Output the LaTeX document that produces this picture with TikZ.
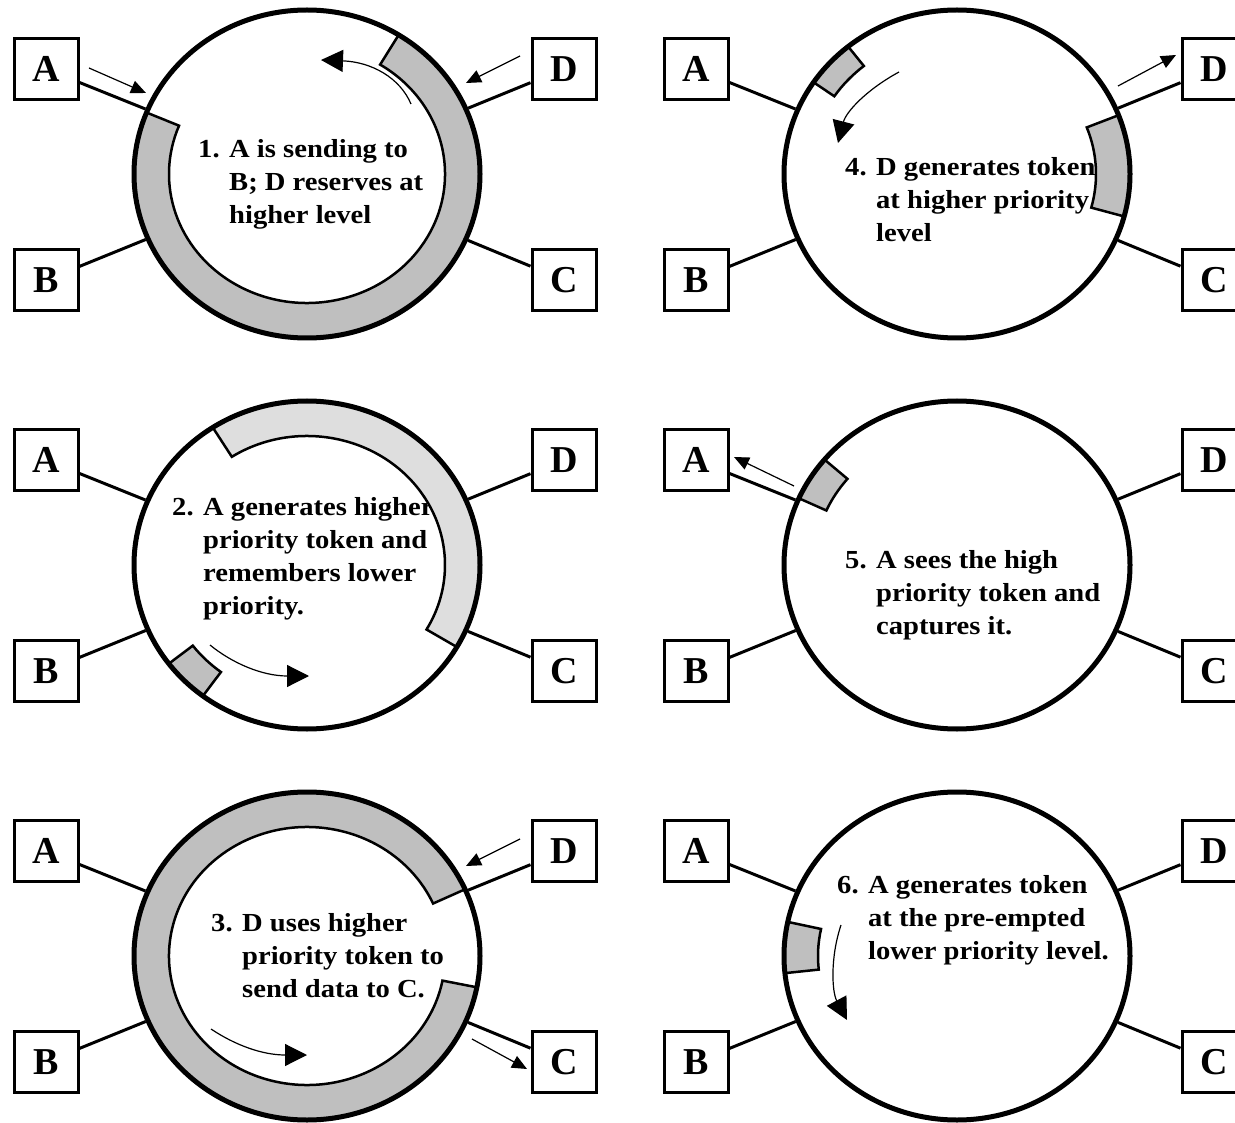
\documentclass[tikz,border=0pt]{standalone}
\usepackage{fontspec}
\setmainfont{Liberation Serif}
\newfontfamily\lblfont[FakeStretch=1.1]{Liberation Serif}
\usetikzlibrary{arrows.meta,shapes.geometric}
\definecolor{bandgray}{gray}{0.75}
\definecolor{lightband}{gray}{0.87}
\tikzset{
  ringst/.style={ellipse, draw, line width=5pt, minimum width=346pt, minimum height=328pt, inner sep=0pt},
  boxst/.style={draw, line width=3pt, minimum width=64pt, minimum height=61pt, inner sep=0pt, font=\bfseries\fontsize{38}{40}\selectfont},
  wire/.style={line width=3pt},
  txtst/.style={anchor=base west, align=left, inner sep=0pt, font=\lblfont\bfseries\fontsize{26}{33}\selectfont},
  darkfill/.style={fill=bandgray, draw=black, line width=2.5pt, line join=miter},
  lightfill/.style={fill=lightband, draw=black, line width=2.5pt, line join=miter},
  smallarr/.style={line width=1.2pt, -{Triangle[length=15pt,width=13pt]}},
  bigarr/.style={line width=1.2pt, -{Triangle[length=22pt,width=22pt]}}
}
% #1 centre coordinate, #2 start angle, #3 end angle, #4 depth, #5 style
\newcommand\ringband[5]{%
  \pgfmathsetmacro\myrxin{173-#4}%
  \pgfmathsetmacro\myryin{164-#4}%
  \path[#5] ([shift={(#2:173pt and 164pt)}]#1)
    arc[start angle=#2, end angle=#3, x radius=173pt, y radius=164pt]
    -- ([shift={(#3:\myrxin pt and \myryin pt)}]#1)
    arc[start angle=#3, end angle=#2, x radius=\myrxin pt, y radius=\myryin pt]
    -- cycle;}
% #1 id, #2 cx, #3 cy
\newcommand\skel[3]{%
  \node[ringst] (R#1) at (#2,#3) {};
  \node[boxst] (A#1) at ({#2-261},{#3-105}) {A};
  \node[boxst] (D#1) at ({#2+257},{#3-105}) {D};
  \node[boxst] (B#1) at ({#2-261},{#3+106}) {B};
  \node[boxst] (C#1) at ({#2+257},{#3+106}) {C};
  \draw[wire] (A#1) -- (R#1);
  \draw[wire] (B#1) -- (R#1);
  \draw[wire] (C#1) -- (R#1);
  \draw[wire] (D#1) -- (R#1);}
\begin{document}
\begin{tikzpicture}[x=1pt,y=-1pt]
\fill[white] (0,0) rectangle (1235,1123);
\useasboundingbox (0,0) rectangle (1235,1123);

% ---------- Panel 1 ----------
\coordinate (c1) at (307,174);
\node[txtst] (t1) at (198,224) {1. A is sending to\\\hphantom{1. }B; D reserves at\\\hphantom{1. }higher level};
\ringband{c1}{158}{418}{35}{darkfill}
\skel{1}{307}{174}
\coordinate (p1s1) at (89,68);   \coordinate (p1t1) at (146,93);
\coordinate (p1s2) at (520,56);  \coordinate (p1t2) at (466,83);
\coordinate (p1s3) at (411,104); \coordinate (p1t3) at (321,60);
\draw[smallarr] (p1s1) -- (p1t1);
\draw[smallarr] (p1s2) -- (p1t2);
\draw[bigarr] (p1s3) .. controls (400,78) and (372,62) .. (p1t3);

% ---------- Panel 2 ----------
\coordinate (c2) at (307,565);
\node[txtst] (t2) at (172,614) {2. A generates higher\\\hphantom{2. }priority token and\\\hphantom{2. }remembers lower\\\hphantom{2. }priority.};
\ringband{c2}{-30}{123}{35}{lightfill}
\ringband{c2}{217}{233}{30}{darkfill}
\skel{2}{307}{565}
\coordinate (p2s1) at (210,645); \coordinate (p2t1) at (309,676);
\draw[bigarr] (p2s1) .. controls (232,663) and (262,676) .. (p2t1);

% ---------- Panel 3 ----------
\coordinate (c3) at (307,956);
\node[txtst] (t3) at (211,997) {3. D uses higher\\\hphantom{3. }priority token to\\\hphantom{3. }send data to C.};
\ringband{c3}{24}{349}{35}{darkfill}
\skel{3}{307}{956}
\coordinate (p3s1) at (520,839);  \coordinate (p3t1) at (466,866);
\coordinate (p3s2) at (472,1039); \coordinate (p3t2) at (527,1069);
\coordinate (p3s3) at (211,1029); \coordinate (p3t3) at (307,1055);
\draw[smallarr] (p3s1) -- (p3t1);
\draw[smallarr] (p3s2) -- (p3t2);
\draw[bigarr] (p3s3) .. controls (235,1045) and (262,1055) .. (p3t3);

% ---------- Panel 4 ----------
\coordinate (c4) at (957,174);
\node[txtst] (t4) at (845,242) {4. D generates token\\\hphantom{4. }at higher priority\\\hphantom{4. }level};
\ringband{c4}{129}{146}{25}{darkfill}
\ringband{c4}{-15}{21}{34}{darkfill}
\skel{4}{957}{174}
\coordinate (p4s1) at (1118,86); \coordinate (p4t1) at (1176,55);
\coordinate (p4s2) at (899,72);  \coordinate (p4t2) at (838,143);
\draw[smallarr] (p4s1) -- (p4t1);
\draw[bigarr] (p4s2) .. controls (866,90) and (846,112) .. (p4t2);

% ---------- Panel 5 ----------
\coordinate (c5) at (957,565);
\node[txtst] (t5) at (845,634) {5. A sees the high\\\hphantom{5. }priority token and\\\hphantom{5. }captures it.};
\ringband{c5}{140}{156}{30}{darkfill}
\skel{5}{957}{565}
\coordinate (p5s1) at (794,486); \coordinate (p5t1) at (734,457);
\draw[smallarr] (p5s1) -- (p5t1);

% ---------- Panel 6 ----------
\coordinate (c6) at (957,956);
\node[txtst] (t6) at (837,959) {6. A generates token\\\hphantom{6. }at the pre-empted\\\hphantom{6. }lower priority level.};
\ringband{c6}{168}{186}{34}{darkfill}
\skel{6}{957}{956}
\coordinate (p6s1) at (841,925); \coordinate (p6t1) at (847,1020);
\draw[bigarr] (p6s1) .. controls (830,958) and (832,992) .. (p6t1);
\end{tikzpicture}
\end{document}
